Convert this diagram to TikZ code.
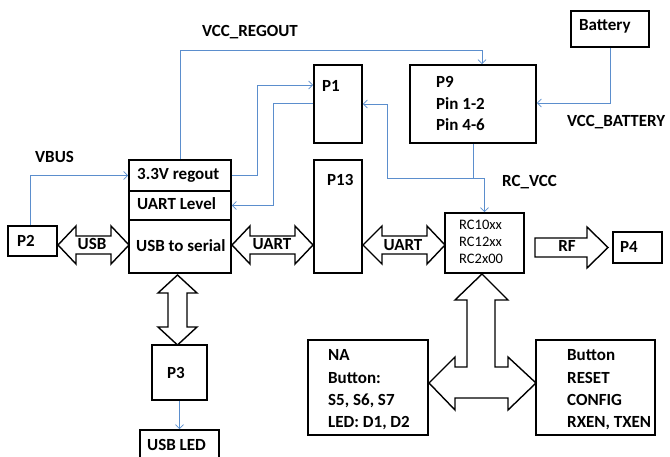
\documentclass[tikz,border=0pt]{standalone}
\usepackage{fontspec}
\setmainfont{Carlito}
\usetikzlibrary{arrows.meta}
\definecolor{wirec}{RGB}{91,142,205}
\begin{document}
\begin{tikzpicture}[x=1pt,y=-1pt,
 box/.style={draw=black, line width=1.6pt, inner sep=0pt},
 lbl/.style={font=\fontsize{17}{20}\selectfont\bfseries, inner sep=0pt, anchor=base west},
 clbl/.style={font=\fontsize{17}{20}\selectfont\bfseries, inner sep=0pt, anchor=base},
 small/.style={font=\fontsize{14.5}{16}\selectfont, inner sep=0pt, anchor=base west},
 wire/.style={draw=wirec, line width=0.8pt},
 arr/.style={wire, -{Straight Barb[length=4pt,width=8pt]}},
 blk/.style={draw=black, line width=1.4pt, fill=white, line join=miter},
]
\useasboundingbox (0,0) rectangle (670,457);
\clip (0,0) rectangle (670,457);

% block arrows
\draw[blk] (58,245) -- (76,226) -- (76,236) -- (111,236) -- (111,226) -- (129,245) -- (111,264) -- (111,254) -- (76,254) -- (76,264) -- cycle;
\draw[blk] (232,245) -- (250,226) -- (250,236) -- (295,236) -- (295,226) -- (313,245) -- (295,264) -- (295,254) -- (250,254) -- (250,264) -- cycle;
\draw[blk] (363,245) -- (382,226) -- (382,236) -- (427,236) -- (427,226) -- (445,245) -- (427,264) -- (427,254) -- (382,254) -- (382,264) -- cycle;
\draw[blk] (177.5,275) -- (197,293) -- (187,293) -- (187,327) -- (197,327) -- (177.5,345) -- (158,327) -- (168,327) -- (168,293) -- (158,293) -- cycle;
\draw[blk] (535,238) -- (587,238) -- (587,227) -- (608,247.5) -- (587,268) -- (587,257) -- (535,257) -- cycle;
\draw[blk] (482,274) -- (508,300) -- (495,300) -- (495,367) -- (508,367) -- (508,357) -- (536,383) -- (508,410) -- (508,398) -- (455,398) -- (455,410) -- (429,383) -- (455,357) -- (455,367) -- (467,367) -- (467,300) -- (455,300) -- cycle;

% boxes
\node[box, minimum width=78, minimum height=36] (battery) at (610,29) {};
\node[box, minimum width=126, minimum height=78] (p9) at (473,104) {};
\node[box, minimum width=48, minimum height=78] (p1) at (338,104) {};
\node[box, minimum width=102, minimum height=31] (regout) at (180,175.5) {};
\node[box, minimum width=102, minimum height=29] (uartlvl) at (180,205.5) {};
\node[box, minimum width=102, minimum height=53] (usbser) at (180,246.5) {};
\node[box, minimum width=48, minimum height=113] (p13) at (338,216.5) {};
\node[box, minimum width=49, minimum height=30] (p2) at (32.5,241) {};
\node[box, minimum width=79, minimum height=60] (rc) at (484.5,243) {};
\node[box, minimum width=49, minimum height=31] (p4) at (637.5,247.5) {};
\node[box, minimum width=55, minimum height=55] (p3) at (179.5,372.5) {};
\node[box, minimum width=79, minimum height=45] (usbled) at (179.5,452.5) {};
\node[box, minimum width=120, minimum height=95] (na) at (368,387.5) {};
\node[box, minimum width=119, minimum height=95] (button) at (595.5,387.5) {};

% texts
\node[lbl] (tregoutlbl) at (202,37) {VCC\_REGOUT};
\node[lbl] (tbat) at (579,31) {Battery};
\node[lbl] (tp9a) at (436,87.5) {P9};
\node[lbl] (tp9b) at (436,109.5) {Pin 1-2};
\node[lbl] (tp9c) at (436,131) {Pin 4-6};
\node[lbl] (tp1) at (322,91.5) {P1};
\node[lbl] (tvbat) at (567,126.5) {VCC\_BATTERY};
\node[lbl] (tvbus) at (35,163) {VBUS};
\node[lbl] (treg) at (137,180) {3.3V regout};
\node[lbl] (tul) at (137,210) {UART Level};
\node[lbl] (tp13) at (327,186) {P13};
\node[lbl] (trcvcc) at (502,187) {RC\_VCC};
\node[lbl] (tus) at (136,252) {USB to serial};
\node[lbl] (tp2) at (17,247) {P2};
\node[clbl] (tusb) at (92,250) {USB};
\node[clbl] (tuart1) at (272,250) {UART};
\node[clbl] (tuart2) at (403,251) {UART};
\node[clbl] (trf) at (567,252) {RF};
\node[lbl] (tp4) at (620,253) {P4};
\node[small] (trc1) at (459,230) {RC10xx};
\node[small] (trc2) at (459,247) {RC12xx};
\node[small] (trc3) at (459,264) {RC2x00};
\node[lbl] (tp3) at (167,378) {P3};
\node[lbl] (tled) at (147,450) {USB LED};
\node[lbl] (tna1) at (328,360) {NA};
\node[lbl] (tna2) at (328,384) {Button:};
\node[lbl] (tna3) at (328,405) {S5, S6, S7};
\node[lbl] (tna4) at (328,427) {LED: D1, D2};
\node[lbl] (tb1) at (567,360) {Button};
\node[lbl] (tb2) at (567,383) {RESET};
\node[lbl] (tb3) at (567,405) {CONFIG};
\node[lbl] (tb4) at (567,427) {RXEN, TXEN};

% wires
\draw[arr] (regout.north) |- (482,50) -- (p9.north -| 482,0);
\draw[arr] (regout.east) -| (257,85) -- (p1.west |- 0,85);
\draw[arr] (p1.west |- 0,103) -| (273,205.5) -- (uartlvl.east);
\draw[arr] ([xshift=-2.5pt]p2.north) |- (regout.west);
\draw[arr] (battery.south) |- (p9.east |- 0,103);
\coordinate (j) at (473,178);
\draw[wire] (p9.south) -- (j);
\draw[arr] (j) -| (rc.north);
\draw[arr] (j) -- (387,178) |- (p1.east);
\draw[arr] (p3.south) -- (usbled.north);
\end{tikzpicture}
\end{document}
